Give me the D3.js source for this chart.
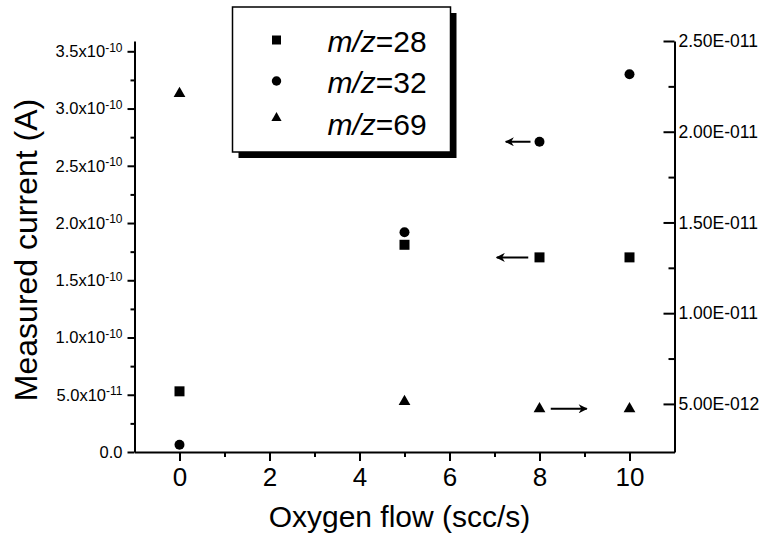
<!DOCTYPE html>
<html>
<head>
<meta charset="utf-8">
<script src="https://cdn.jsdelivr.net/npm/d3@7"></script>
<style>
  body { margin: 0; background: #fff; }
  svg { font-family: "Liberation Sans", Arial, sans-serif; }
  .axis path, .axis line { stroke: #000; stroke-width: 2; }
  .axis text { fill: #000; }
</style>
</head>
<body>
<svg id="chart" width="760" height="539"></svg>
<script>
// values
const flow = [0, 5, 8, 10];
const mz28 = [5.3e-11, 1.81e-10, 1.70e-10, 1.70e-10];   // left axis
const mz32 = [6.4e-12, 1.92e-10, 2.71e-10, 3.30e-10];   // left axis
const mz69 = [2.21e-11, 5.13e-12, 4.73e-12, 4.73e-12];  // right axis
const xTicks = [0, 2, 4, 6, 8, 10];
const xMinor = [1, 3, 5, 7, 9];
const yLeftTicks = [0, 0.5e-10, 1.0e-10, 1.5e-10, 2.0e-10, 2.5e-10, 3.0e-10, 3.5e-10];
const yLeftLabels = ["0.0", "5.0x10|-11", "1.0x10|-10", "1.5x10|-10", "2.0x10|-10", "2.5x10|-10", "3.0x10|-10", "3.5x10|-10"];
const yLeftMinor = [0.25e-10, 0.75e-10, 1.25e-10, 1.75e-10, 2.25e-10, 2.75e-10, 3.25e-10];
const yRightTicks = [5e-12, 1e-11, 1.5e-11, 2e-11, 2.5e-11];
const yRightLabels = ["5.00E-012", "1.00E-011", "1.50E-011", "2.00E-011", "2.50E-011"];
const yRightMinor = [7.5e-12, 1.25e-11, 1.75e-11, 2.25e-11];
const legendNames = ["28", "32", "69"];
// arrows: [axis, x from, x to, y value]
const arrows = [
  ["left", 7.8, 7.25, mz32[2]],
  ["left", 7.75, 7.05, mz28[2]],
  ["right", 8.25, 9.05, mz69[2]]
];

const svg = d3.select("#chart");
const plot = {left: 134.5, right: 674.5, top: 41, bottom: 452};

const x = d3.scaleLinear().domain([-1, 11]).range([plot.left, plot.right]);
const yL = d3.scaleLinear().domain([0, 3.59e-10]).range([plot.bottom, plot.top]);
const yR = d3.scaleLinear().domain([2.35e-12, 2.5e-11]).range([plot.bottom, plot.top]);

svg.append("defs").append("marker")
  .attr("id", "head")
  .attr("viewBox", "0 0 10 10")
  .attr("refX", 9).attr("refY", 5)
  .attr("markerWidth", 5.5).attr("markerHeight", 4.5)
  .attr("markerUnits", "strokeWidth")
  .attr("orient", "auto")
  .append("path").attr("d", "M0,0 L10,5 L0,10 L3,5 Z").attr("fill", "#000");

// x axis
const gx = svg.append("g").attr("class", "axis")
  .attr("transform", "translate(0," + plot.bottom + ")")
  .call(d3.axisBottom(x).tickValues(xTicks).tickSize(9).tickSizeOuter(0).tickPadding(7));
gx.selectAll("text").style("font-size", "26px");
svg.append("g").attr("class", "axis")
  .attr("transform", "translate(0," + plot.bottom + ")")
  .call(d3.axisBottom(x).tickValues(xMinor).tickSize(5).tickFormat(""))
  .select(".domain").remove();

// left axis
const gl = svg.append("g").attr("class", "axis")
  .attr("transform", "translate(" + plot.left + ",0)")
  .call(d3.axisLeft(yL).tickValues(yLeftTicks).tickSize(7).tickSizeOuter(0).tickPadding(5));
gl.selectAll(".tick text").each(function(d, i) {
  const t = d3.select(this).text("").style("font-size", "16.5px");
  const parts = yLeftLabels[i].split("|");
  t.append("tspan").text(parts[0]);
  if (parts[1]) t.append("tspan").attr("dy", "-0.45em").style("font-size", "12px").text(parts[1]);
});
svg.append("g").attr("class", "axis")
  .attr("transform", "translate(" + plot.left + ",0)")
  .call(d3.axisLeft(yL).tickValues(yLeftMinor).tickSize(4).tickFormat(""))
  .select(".domain").remove();

// right axis (ticks inward)
const gr = svg.append("g").attr("class", "axis")
  .attr("transform", "translate(" + plot.right + ",0)")
  .call(d3.axisRight(yR).tickValues(yRightTicks).tickSize(-11).tickSizeOuter(0).tickPadding(4)
    .tickFormat((d, i) => yRightLabels[i]));
gr.selectAll("text").style("font-size", "17.5px");
svg.append("g").attr("class", "axis")
  .attr("transform", "translate(" + plot.right + ",0)")
  .call(d3.axisRight(yR).tickValues(yRightMinor).tickSize(-6).tickFormat(""))
  .select(".domain").remove();

// titles
svg.append("text")
  .attr("x", (plot.left + plot.right) / 2 - 5).attr("y", 527)
  .attr("text-anchor", "middle").style("font-size", "30px")
  .text("Oxygen flow (scc/s)");
svg.append("text")
  .attr("transform", "translate(37," + 250 + ") rotate(-90)")
  .attr("text-anchor", "middle").style("font-size", "32px")
  .text("Measured current (A)");

// markers
const sq = d3.symbol().type(d3.symbolSquare).size(100);
const ci = d3.symbol().type(d3.symbolCircle).size(78);
const tr = d3.symbol().type(d3.symbolTriangle).size(60);

svg.append("g").selectAll("path").data(flow).join("path")
  .attr("d", sq).attr("transform", (d, i) => "translate(" + x(d) + "," + yL(mz28[i]) + ")");
svg.append("g").selectAll("path").data(flow).join("path")
  .attr("d", ci).attr("transform", (d, i) => "translate(" + x(d) + "," + yL(mz32[i]) + ")");
svg.append("g").selectAll("path").data(flow).join("path")
  .attr("d", tr).attr("transform", (d, i) => "translate(" + x(d) + "," + yR(mz69[i]) + ")");

// axis arrows
svg.append("g").selectAll("line").data(arrows).join("line")
  .attr("x1", d => x(d[1])).attr("x2", d => x(d[2]))
  .attr("y1", d => (d[0] === "left" ? yL : yR)(d[3]))
  .attr("y2", d => (d[0] === "left" ? yL : yR)(d[3]))
  .attr("stroke", "#000").attr("stroke-width", 2)
  .attr("marker-end", "url(#head)");

// legend
const lg = svg.append("g").attr("transform", "translate(232.5,7)");
lg.append("rect").attr("x", 6).attr("y", 6).attr("width", 218).attr("height", 145).attr("fill", "#000");
lg.append("rect").attr("width", 218).attr("height", 145)
  .attr("fill", "#fff").attr("stroke", "#000").attr("stroke-width", 1.5);
const syms = [d3.symbol().type(d3.symbolSquare).size(81), d3.symbol().type(d3.symbolCircle).size(70), d3.symbol().type(d3.symbolTriangle).size(45)];
const rowY = [33, 74, 111];
const textY = [45, 86, 128];
legendNames.forEach((n, i) => {
  lg.append("path").attr("d", syms[i]).attr("transform", "translate(44," + rowY[i] + ")");
  const t = lg.append("text").attr("x", 95).attr("y", textY[i]).style("font-size", "30px");
  t.append("tspan").style("font-style", "italic").text("m/z");
  t.append("tspan").text("=" + n);
});
</script>
</body>
</html>
